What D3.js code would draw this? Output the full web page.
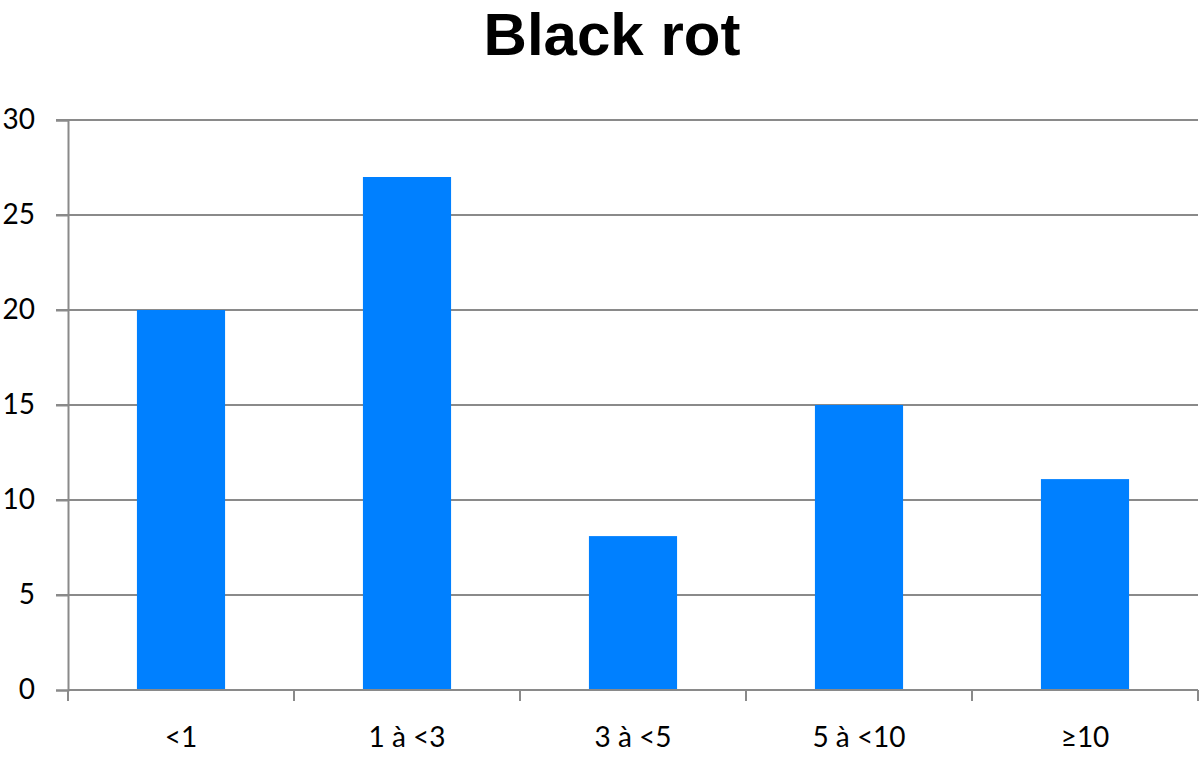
<!DOCTYPE html>
<html><head><meta charset="utf-8">
<script src="https://cdn.jsdelivr.net/npm/d3@7"></script>
<style>body{margin:0;background:#fff}</style>
</head><body>
<svg id="c" width="1200" height="759"></svg>
<script>
const categories = ["<1", "1 à <3", "3 à <5", "5 à <10", "≥10"];
const values = [20, 27, 8.1, 15, 11.1];
const yTicks = [0, 5, 10, 15, 20, 25, 30];
const title = "Black rot";

const svg = d3.select("#c");
const m = {left: 68, right: 1198, top: 120, bottom: 690};
const x = d3.scaleBand().domain(categories).range([m.left, m.right]).paddingInner(0.61).paddingOuter(0.305);
const y = d3.scaleLinear().domain([0, 30]).range([m.bottom, m.top]);
const axisColor = "#8a8a8a";
const labelFont = "Lato, 'Open Sans', sans-serif";
const labelSize = 28;

// gridlines
svg.append("g").selectAll("line").data(yTicks.filter(d => d > 0)).join("line")
  .attr("x1", 56).attr("x2", m.right).attr("y1", d => y(d)).attr("y2", d => y(d))
  .attr("stroke", axisColor).attr("stroke-width", 2);

// bars
svg.append("g").selectAll("rect").data(values).join("rect")
  .attr("x", (d, i) => x(categories[i])).attr("width", x.bandwidth())
  .attr("y", d => y(d)).attr("height", d => y(0) - y(d))
  .attr("fill", "#0080ff");

// y axis
const ya = svg.append("g").attr("transform", `translate(${m.left},0)`)
  .call(d3.axisLeft(y).tickValues(yTicks).tickSize(12).tickPadding(21));
ya.select(".domain").attr("stroke", axisColor).attr("stroke-width", 2);
ya.selectAll(".tick line").attr("stroke", axisColor).attr("stroke-width", 2);
ya.selectAll("text").attr("font-family", labelFont).attr("font-size", labelSize).attr("fill", "#000");

// x axis
const edges = categories.map(c => x(c) - x.step() * x.paddingInner() / 2).concat([m.right]);
const xa = svg.append("g").attr("transform", `translate(0,${m.bottom})`)
  .call(d3.axisBottom(x).tickSize(0).tickPadding(37));
xa.select(".domain").attr("stroke", axisColor).attr("stroke-width", 2).attr("d", `M${m.left},0H${m.right}`);
xa.selectAll("text").attr("font-family", labelFont).attr("font-size", labelSize).attr("fill", "#000");
xa.append("g").selectAll("line").data(edges).join("line")
  .attr("x1", d => d).attr("x2", d => d).attr("y1", 0).attr("y2", 11)
  .attr("stroke", axisColor).attr("stroke-width", 2);

// title
svg.append("text").attr("x", 612).attr("y", 55).attr("text-anchor", "middle")
  .attr("font-family", "'Liberation Sans', Arial, sans-serif").attr("font-weight", "bold")
  .attr("font-size", 60).attr("fill", "#000").text(title);
</script>
</body></html>
